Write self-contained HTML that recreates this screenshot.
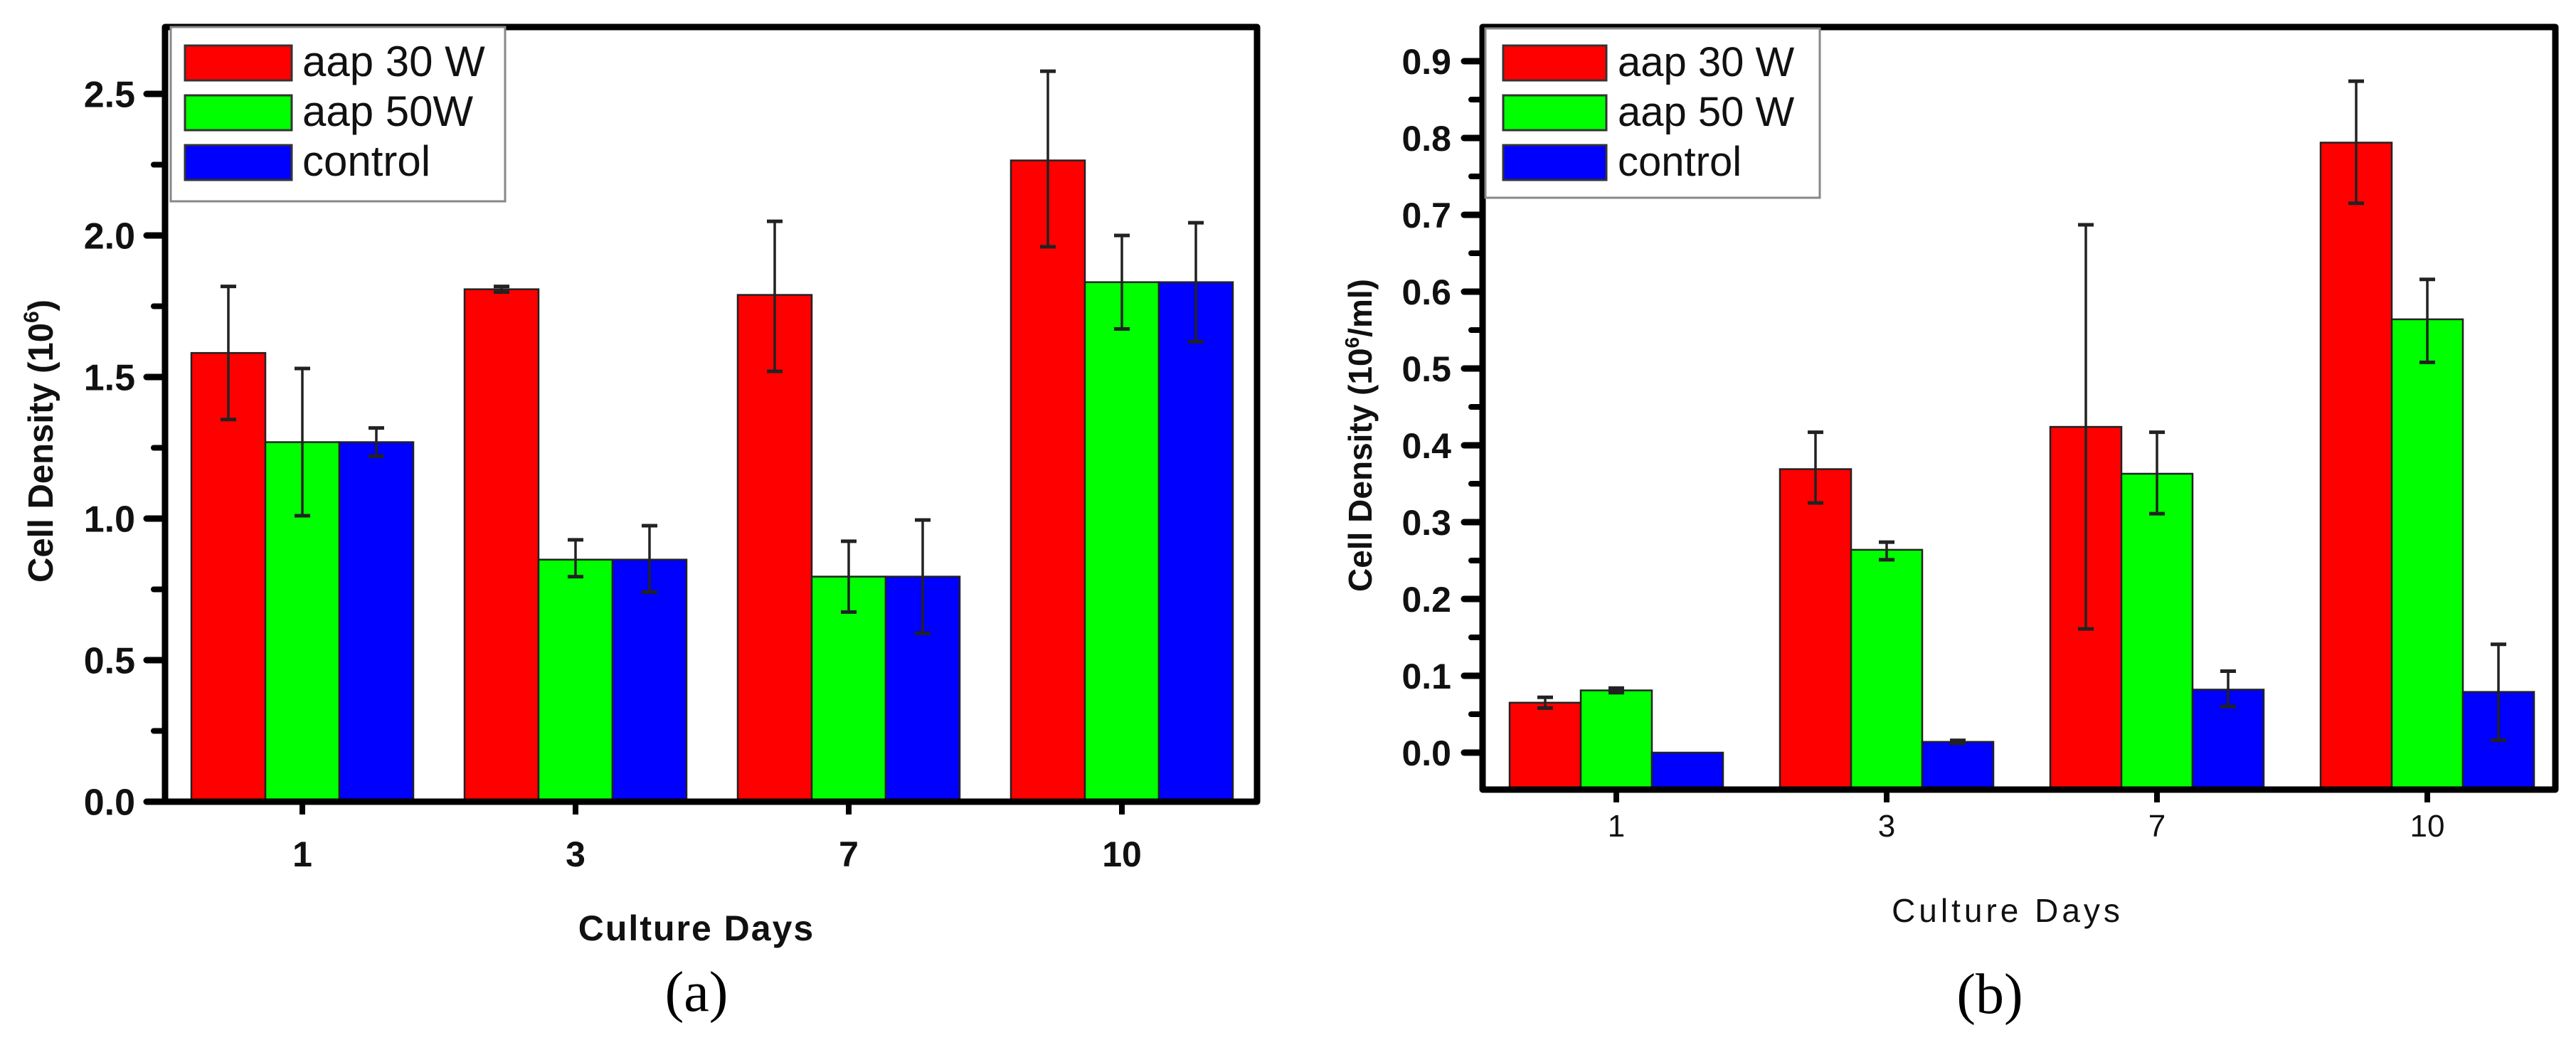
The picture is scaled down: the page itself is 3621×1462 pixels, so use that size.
<!DOCTYPE html>
<html><head><meta charset="utf-8"><style>
html,body{margin:0;padding:0;background:#fff;}
svg{display:block;}
</style></head><body>
<svg id="fig" xmlns="http://www.w3.org/2000/svg" width="3621" height="1462" viewBox="0 0 3621 1462">
<rect x="0" y="0" width="3621" height="1462" fill="#fff"/>
</svg>
<script>
const categories = ['1','3','7','10'];
const seriesNames = ['aap 30 W','aap 50W','control'];
const seriesNamesB = ['aap 30 W','aap 50 W','control'];
const colors = ['#ff0000','#00ff00','#0000ff'];
// panel (a)
const a30 = [1.585, 1.81, 1.79, 2.265];
const a30Lo = [1.35, 1.80, 1.52, 1.96];
const a30Hi = [1.82, 1.82, 2.05, 2.58];
const a50 = [1.27, 0.855, 0.795, 1.835];
const a50Lo = [1.01, 0.795, 0.67, 1.67];
const a50Hi = [1.53, 0.925, 0.92, 2.0];
const aCtl = [1.27, 0.855, 0.795, 1.835];
const aCtlLo = [1.22, 0.74, 0.595, 1.625];
const aCtlHi = [1.32, 0.975, 0.995, 2.045];
const aTicks = ['0.0','0.5','1.0','1.5','2.0','2.5'];
// panel (b)
const b30 = [0.065, 0.369, 0.424, 0.794];
const b30Lo = [0.058, 0.325, 0.161, 0.715];
const b30Hi = [0.072, 0.417, 0.687, 0.874];
const b50 = [0.081, 0.264, 0.363, 0.564];
const b50Lo = [0.078, 0.251, 0.311, 0.508];
const b50Hi = [0.084, 0.274, 0.417, 0.616];
const bCtl = [0.0, 0.014, 0.082, 0.079];
const bCtlLo = [0.0, 0.012, 0.06, 0.016];
const bCtlHi = [0.0, 0.016, 0.106, 0.141];
const bTicks = ['0.0','0.1','0.2','0.3','0.4','0.5','0.6','0.7','0.8','0.9'];

const NS='http://www.w3.org/2000/svg';
const svg=document.getElementById('fig');
function mk(tag, attrs, parent){
  const e=document.createElementNS(NS,tag);
  for(const k in attrs) e.setAttribute(k,attrs[k]);
  (parent||svg).appendChild(e);
  return e;
}

function panel(P){
  const g=mk('g',{});
  
  
  const yS=v=>P.y0 - (v - P.vmin)/(P.vmax - P.vmin)*(P.y0 - P.yTop);
  const xS=i=>P.xFirst + i*P.xStep;
  P.series.forEach((s,si)=>{
    s.vals.forEach((v,ci)=>{
      const cx=xS(ci)+(si-1)*P.bw;
      const top=Math.min(yS(v),P.axisY);
      const r=mk('rect',{x:cx-P.bw/2,y:top,width:P.bw,height:P.axisY-top,fill:colors[si],stroke:'#222','stroke-width':2.5},g);
      
      
    });
  });
  P.series.forEach((s,si)=>{
    s.vals.forEach((v,ci)=>{
      const lo=s.lo[ci], hi=s.hi[ci];
      if(hi-lo<=0) return;
      const cx=xS(ci)+(si-1)*P.bw;
      const e=mk('g',{stroke:'#222','stroke-width':3.5},g);
      
      
      mk('line',{x1:cx,x2:cx,y1:yS(hi),y2:yS(lo)},e);
      mk('line',{x1:cx-11,x2:cx+11,y1:yS(hi),y2:yS(hi),'stroke-width':5},e);
      mk('line',{x1:cx-11,x2:cx+11,y1:yS(lo),y2:yS(lo),'stroke-width':5},e);
    });
  });
  const fr=mk('path',{d:`M${P.xL} ${P.axisY} L${P.xL} ${P.top} L${P.xR} ${P.top} L${P.xR} ${P.axisY} Z`,fill:'none',stroke:'#000','stroke-width':9,'stroke-linejoin':'round'},g);
  
  
  const nT=P.ticks.length;
  const step=(P.tickMax)/(nT-1);
  for(let i=0;i<nT;i++){
    const v=i*step, y=yS(v);
    const t=mk('line',{x1:P.xL-26,x2:P.xL,y1:y,y2:y,stroke:'#000','stroke-width':9,'stroke-linecap':'round'},g);
    
    
    const lb=mk('text',{x:P.yLabelX,y:y+P.yFont*0.36,'text-anchor':'end','font-family':'Liberation Sans, sans-serif','font-weight':'bold','font-size':P.yFont,fill:'#111'},g);
    lb.textContent=P.ticks[i];
    
    
  }
  for(let v=step/2; v<P.vmax; v+=step){
    if(Math.abs((v/step)-Math.round(v/step))<0.01) continue;
    const y=yS(v);
    if(y<P.top+5) continue;
    const t=mk('line',{x1:P.xL-16,x2:P.xL,y1:y,y2:y,stroke:'#000','stroke-width':8,'stroke-linecap':'round'},g);
    
    
  }
  categories.forEach((c,ci)=>{
    const x=xS(ci);
    const t=mk('line',{x1:x,x2:x,y1:P.axisY,y2:P.axisY+18,stroke:'#000','stroke-width':8},g);
    
    
    const lb=mk('text',{x:x,y:P.xLabelY,'text-anchor':'middle','font-family':'Liberation Sans, sans-serif','font-weight':P.xBold?'bold':'normal','font-size':P.xFont,fill:'#111'},g);
    lb.textContent=c;
    
    
  });
  const yt=mk('text',{x:0,y:0,transform:`translate(${P.yTitleX},${P.yTitleY}) rotate(-90)`,'text-anchor':'middle','font-family':'Liberation Sans, sans-serif','font-weight':'bold','font-size':P.yTitleFont,fill:'#111'},g);
  
  
  yt.innerHTML=P.yTitle;
  const xt=mk('text',{x:P.xTitleX,y:P.xTitleY,'text-anchor':'middle','font-family':'Liberation Sans, sans-serif','font-weight':P.xTitleBold?'bold':'normal','font-size':P.xTitleFont,'letter-spacing':P.xTitleLS,fill:'#111'},g);
  xt.textContent='Culture Days';
  
  
  const lg=mk('g',{},g);
  
  
  mk('rect',{x:P.lg.x,y:P.lg.y,width:P.lg.w,height:P.lg.h,fill:'#fff',stroke:'#888','stroke-width':3},lg);
  P.names.forEach((n,si)=>{
    const ent=mk('g',{},lg);
    
    
    const sy=P.lg.sy+si*70;
    mk('rect',{x:P.lg.sx,y:sy,width:P.lg.sw,height:49,fill:colors[si],stroke:'#333','stroke-width':3},ent);
    const tx=mk('text',{x:P.lg.tx,y:sy+43,'font-family':'Liberation Sans, sans-serif','font-size':P.lg.font,fill:'#111'},ent);
    tx.textContent=n;
  });
  const cap=mk('text',{x:P.capX,y:P.capY,'text-anchor':'middle','font-family':'Liberation Serif, serif','font-size':80,fill:'#000'},g);
  cap.textContent=P.cap;
  
  
}

panel({id:'panel-a',xL:232,xR:1767,top:38,axisY:1127,y0:1127,yTop:132,vmin:0,vmax:2.5,tickMax:2.5,
  xFirst:425,xStep:384,bw:104,ticks:aTicks,yLabelX:190,yFont:52,
  xLabelY:1218,xFont:50,xBold:true,
  yTitle:'Cell Density (10<tspan dy="-20" font-size="30">6</tspan><tspan dy="20">)</tspan>',yTitleX:74,yTitleY:620,yTitleFont:49,
  xTitleX:979,xTitleY:1322,xTitleFont:50,xTitleBold:true,xTitleLS:2,
  names:seriesNames,
  series:[{key:'aap30',vals:a30,lo:a30Lo,hi:a30Hi},{key:'aap50',vals:a50,lo:a50Lo,hi:a50Hi},{key:'control',vals:aCtl,lo:aCtlLo,hi:aCtlHi}],
  lg:{x:240,y:38,w:470,h:245,sx:260,sy:64,sw:150,tx:425,font:60},
  cap:'(a)',capX:979,capY:1421});

panel({id:'panel-b',xL:2084,xR:3592,top:38,axisY:1110,y0:1058,yTop:86,vmin:0,vmax:0.9,tickMax:0.9,
  xFirst:2272,xStep:380,bw:100,ticks:bTicks,yLabelX:2040,yFont:50,
  xLabelY:1176,xFont:44,xBold:false,
  yTitle:'Cell Density (10<tspan dy="-18" font-size="28">6</tspan><tspan dy="18">/ml)</tspan>',yTitleX:1928,yTitleY:612,yTitleFont:46,
  xTitleX:2822,xTitleY:1296,xTitleFont:46,xTitleBold:false,xTitleLS:5,
  names:seriesNamesB,
  series:[{key:'aap30',vals:b30,lo:b30Lo,hi:b30Hi},{key:'aap50',vals:b50,lo:b50Lo,hi:b50Hi},{key:'control',vals:bCtl,lo:bCtlLo,hi:bCtlHi}],
  lg:{x:2088,y:40,w:470,h:238,sx:2113,sy:64,sw:145,tx:2274,font:58},
  cap:'(b)',capX:2797,capY:1424});
</script>
</body></html>
